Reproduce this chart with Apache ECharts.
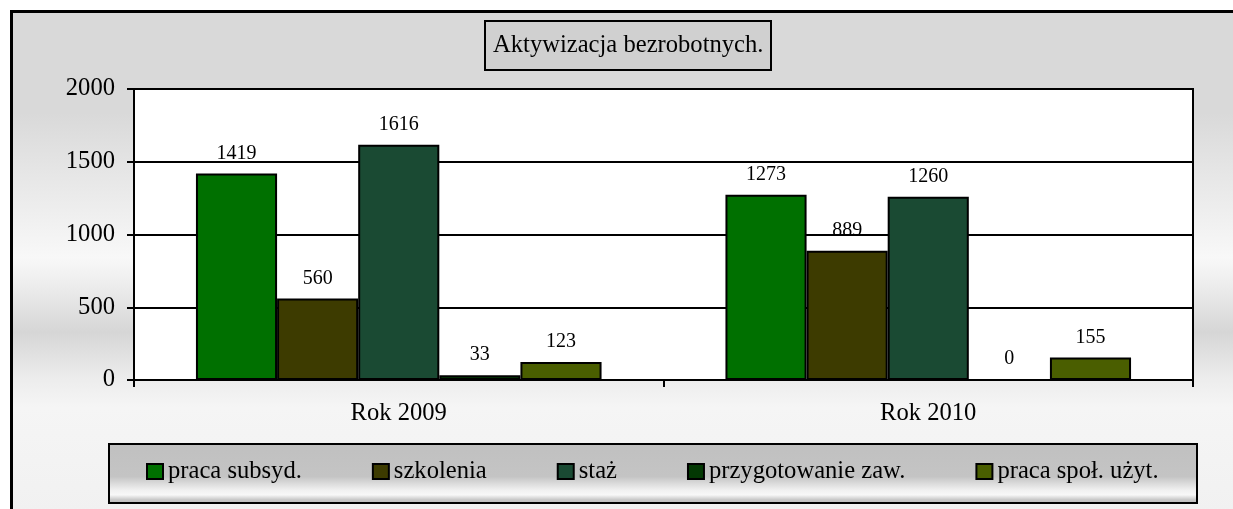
<!DOCTYPE html>
<html>
<head>
<meta charset="utf-8">
<script src="https://cdn.jsdelivr.net/npm/echarts@6/dist/echarts.min.js"></script>
<style>
html,body{margin:0;padding:0;background:#fff;}
#wrap{position:relative;width:1233px;height:509px;overflow:hidden;background:#fff;}
#frame{position:absolute;left:10px;top:10px;width:1300px;height:499px;border-left:3px solid #000;border-top:3px solid #000;
background:linear-gradient(to bottom,#d9d9d9 0%,#d9d9d9 20%,#f8f8f8 49%,#eeeeee 54%,#d6d6d6 64%,#ececec 73%,#f5f5f5 79%,#f1f1f1 100%);}
#chart{position:absolute;left:0;top:0;width:1233px;height:509px;}
</style>
</head>
<body>
<div id="wrap"><div id="frame"></div><div id="chart"></div></div>
<script>
const categories = ['Rok 2009', 'Rok 2010'];
const seriesNames = ['praca subsyd.', 'szkolenia', 'staż', 'przygotowanie zaw.', 'praca społ. użyt.'];
const pracaSubsyd = [1419, 1273];
const szkolenia = [560, 889];
const staz = [1616, 1260];
const przygotowanie = [33, 0];
const pracaSpol = [123, 155];
const seriesColors = ['#007000', '#3d3b00', '#1a4a33', '#033803', '#4a5e00'];
const yMin = 0, yMax = 2000, yStep = 500;

const FONT = "'Liberation Serif', 'Times New Roman', serif";
const BIG = 24.6;
const allValues = [pracaSubsyd, szkolenia, staz, przygotowanie, pracaSpol];

const chart = echarts.init(document.getElementById('chart'), null, {renderer: 'canvas'});

const series = seriesNames.map((name, i) => ({
  name: name,
  type: 'bar',
  data: allValues[i],
  barGap: '0%',
  barCategoryGap: '23.4%',
  itemStyle: {color: seriesColors[i], borderColor: '#000', borderWidth: 2},
  label: {show: true, position: 'top', distance: 10, fontSize: 20, color: '#000', fontFamily: FONT},
  emphasis: {disabled: true}
}));

chart.setOption({
  animation: false,
  backgroundColor: 'transparent',
  title: {
    text: 'Aktywizacja bezrobotnych.',
    left: 485, top: 21,
    backgroundColor: '#d0d0d0',
    borderColor: '#000', borderWidth: 2,
    padding: [12, 8],
    textStyle: {fontSize: BIG, fontWeight: 'normal', color: '#000', fontFamily: FONT}
  },
  graphic: [{
    type: 'rect',
    shape: {x: 109, y: 444, width: 1088, height: 59},
    style: {
      fill: {type: 'linear', x: 0, y: 0, x2: 0, y2: 1, colorStops: [
        {offset: 0, color: '#c0c0c0'}, {offset: 0.55, color: '#c4c4c4'},
        {offset: 0.78, color: '#f2f2f2'}, {offset: 0.85, color: '#f8f8f8'},
        {offset: 0.93, color: '#c8c8c8'}, {offset: 1, color: '#b8b8b8'}]},
      stroke: '#000', lineWidth: 2
    }
  }],
  legend: {
    left: 146, top: 459,
    padding: 0,
    itemWidth: 16, itemHeight: 15, itemGap: 70,
    icon: 'rect',
    itemStyle: {borderColor: '#000', borderWidth: 2},
    textStyle: {fontSize: BIG, color: '#000', fontFamily: FONT},
    data: seriesNames
  },
  grid: {
    left: 134, right: 40, top: 89, bottom: 129,
    show: true, backgroundColor: '#fff', borderColor: '#000', borderWidth: 2
  },
  xAxis: {
    type: 'category',
    data: categories,
    axisLine: {show: true, lineStyle: {color: '#000', width: 2}},
    axisTick: {show: true, length: 7, lineStyle: {color: '#000', width: 2}},
    axisLabel: {fontSize: BIG, color: '#000', fontFamily: FONT, margin: 21},
    splitLine: {show: false}
  },
  yAxis: {
    type: 'value',
    min: yMin, max: yMax, interval: yStep,
    axisLine: {show: true, lineStyle: {color: '#000', width: 2}},
    axisTick: {show: true, length: 7, lineStyle: {color: '#000', width: 2}},
    axisLabel: {fontSize: BIG, color: '#000', fontFamily: FONT, margin: 19, formatter: v => String(v)},
    splitLine: {show: true, lineStyle: {color: '#000', width: 2}}
  },
  series: series
});
</script>
</body>
</html>
